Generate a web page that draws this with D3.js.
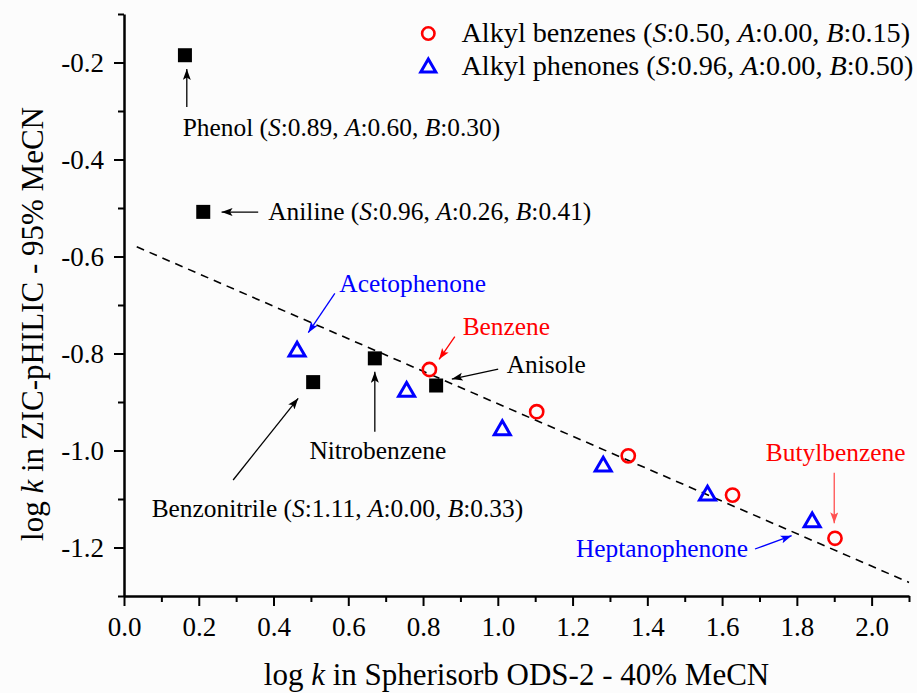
<!DOCTYPE html>
<html>
<head>
<meta charset="utf-8">
<script src="https://cdn.jsdelivr.net/npm/d3@7"></script>
<style>
  html, body { margin: 0; padding: 0; background: #fcfcfc; }
  svg { display: block; font-family: "Liberation Serif", "Times New Roman", serif; }
</style>
</head>
<body>
<svg id="chart" width="917" height="693"></svg>
<script>
// ---- data ----
const benzenesX = [0.817, 1.104, 1.349, 1.628, 1.902];
const benzenesY = [-0.833, -0.920, -1.011, -1.092, -1.181];
const phenonesX = [0.463, 0.756, 1.012, 1.282, 1.561, 1.841];
const phenonesY = [-0.791, -0.874, -0.953, -1.028, -1.088, -1.143];
const othersName = ["Phenol", "Aniline", "Benzonitrile", "Nitrobenzene", "Anisole"];
const othersX = [0.163, 0.212, 0.506, 0.671, 0.835];
const othersY = [-0.185, -0.508, -0.859, -0.810, -0.866];
const fitX = [0.034, 2.10];
const fitY = [-0.580, -1.272];
const xTicks = [0.0, 0.2, 0.4, 0.6, 0.8, 1.0, 1.2, 1.4, 1.6, 1.8, 2.0];
const xMinor = [0.1, 0.3, 0.5, 0.7, 0.9, 1.1, 1.3, 1.5, 1.7, 1.9, 2.1];
const yTicks = [-1.2, -1.0, -0.8, -0.6, -0.4, -0.2];
const yMinor = [-1.3, -1.1, -0.9, -0.7, -0.5, -0.3, -0.1];
const legendLabels = [
  ["Alkyl benzenes (", ["S", ":0.50, "], ["A", ":0.00, "], ["B", ":0.15)"]],
  ["Alkyl phenones (", ["S", ":0.96, "], ["A", ":0.00, "], ["B", ":0.50)"]]
];

// annotations: text anchor and arrow (from -> to) in data units
const annotations = [
  {parts: ["Phenol (", ["S", ":0.89, "], ["A", ":0.60, "], ["B", ":0.30)"]], color: "#000", arrow: "#000",
   tx: 0.157, ty: -0.3516, ax1: 0.168, ay1: -0.2918, ax2: 0.168, ay2: -0.2134},
  {parts: ["Aniline (", ["S", ":0.96, "], ["A", ":0.26, "], ["B", ":0.41)"]], color: "#000", arrow: "#000",
   tx: 0.386, ty: -0.5248, ax1: 0.359, ay1: -0.5083, ax2: 0.261, ay2: -0.5083},
  {parts: ["Acetophenone"], color: "#0000ff", arrow: "#0000ff",
   tx: 0.576, ty: -0.6726, ax1: 0.564, ay1: -0.6759, ax2: 0.493, ay2: -0.7571},
  {parts: ["Benzene"], color: "#ff0000", arrow: "#ff0000",
   tx: 0.906, ty: -0.7619, ax1: 0.885, ay1: -0.7654, ax2: 0.843, ay2: -0.8120},
  {parts: ["Anisole"], color: "#000", arrow: "#000",
   tx: 1.024, ty: -0.8408, ax1: 1.001, ay1: -0.8320, ax2: 0.877, ay2: -0.8526},
  {parts: ["Nitrobenzene"], color: "#000", arrow: "#000",
   tx: 0.496, ty: -1.018, ax1: 0.671, ay1: -0.9613, ax2: 0.671, ay2: -0.8376},
  {parts: ["Benzonitrile (", ["S", ":1.11, "], ["A", ":0.00, "], ["B", ":0.33)"]], color: "#000", arrow: "#000",
   tx: 0.074, ty: -1.1365, ax1: 0.292, ay1: -1.0608, ax2: 0.466, ay2: -0.8924},
  {parts: ["Heptanophenone"], color: "#0000ff", arrow: "#0000ff",
   tx: 1.209, ty: -1.219, ax1: 1.688, ay1: -1.2031, ax2: 1.786, ay2: -1.1757},
  {parts: ["Butylbenzene"], color: "#ff0000", arrow: "#ff5050",
   tx: 1.717, ty: -1.021, ax1: 1.900, ay1: -1.0458, ax2: 1.900, ay2: -1.150}
];

// ---- layout ----
const svg = d3.select("#chart");
const x = d3.scaleLinear().domain([0, 2.1]).range([124, 909]);
const y = d3.scaleLinear().domain([-1.3, -0.1]).range([596, 14]);
const font = "'Liberation Serif', 'Times New Roman', serif";

// arrow markers
const defs = svg.append("defs");
const arrowColors = Array.from(new Set(annotations.map(a => a.arrow)));
arrowColors.forEach((c, i) => {
  defs.append("marker")
    .attr("id", "ah" + i)
    .attr("markerUnits", "userSpaceOnUse")
    .attr("markerWidth", 12).attr("markerHeight", 10)
    .attr("refX", 11).attr("refY", 4)
    .attr("orient", "auto")
    .append("path").attr("d", "M0,0 L11,4 L0,8 L2.5,4 Z").attr("fill", c);
});

// axes
function styleAxis(g) {
  g.selectAll("path.domain").attr("stroke", "#000").attr("stroke-width", 2.5);
  g.selectAll(".tick line").attr("stroke", "#000").attr("stroke-width", 2);
  g.selectAll(".tick text").attr("font-family", font).attr("font-size", 27).attr("fill", "#000");
}
const gx = svg.append("g").attr("transform", `translate(0,${y(-1.3)})`)
  .call(d3.axisBottom(x).tickValues(xTicks).tickFormat(d3.format(".1f")).tickSize(10).tickSizeOuter(0).tickPadding(11));
styleAxis(gx);
gx.selectAll(".tick text").attr("dy", "0.71em");
const gxm = svg.append("g").attr("transform", `translate(0,${y(-1.3)})`)
  .call(d3.axisBottom(x).tickValues(xMinor).tickFormat("").tickSize(6).tickSizeOuter(0));
styleAxis(gxm); gxm.select("path.domain").remove();

const gy = svg.append("g").attr("transform", `translate(${x(0)},0)`)
  .call(d3.axisLeft(y).tickValues(yTicks).tickFormat(d3.format(".1f")).tickSize(10).tickSizeOuter(0).tickPadding(10));
styleAxis(gy);
gy.selectAll(".tick text").text(d => d3.format(".1f")(d).replace("\u2212", "-"));
const gym = svg.append("g").attr("transform", `translate(${x(0)},0)`)
  .call(d3.axisLeft(y).tickValues(yMinor).tickFormat("").tickSize(6).tickSizeOuter(0));
styleAxis(gym); gym.select("path.domain").remove();

// axis titles
const xt = svg.append("text").attr("x", (x(0) + x(2.1)) / 2).attr("y", 685)
  .attr("text-anchor", "middle").attr("font-family", font).attr("font-size", 31).attr("fill", "#000");
xt.append("tspan").text("log ");
xt.append("tspan").attr("font-style", "italic").text("k");
xt.append("tspan").text(" in Spherisorb ODS-2 - 40% MeCN");

const yt = svg.append("text").attr("transform", `translate(43,324) rotate(-90)`)
  .attr("text-anchor", "middle").attr("font-family", font).attr("font-size", 31).attr("fill", "#000");
yt.append("tspan").text("log ");
yt.append("tspan").attr("font-style", "italic").text("k");
yt.append("tspan").text(" in ZIC-pHILIC - 95% MeCN");

// fit line
svg.append("path")
  .attr("d", d3.line().x(d => x(d[0])).y(d => y(d[1]))(d3.zip(fitX, fitY)))
  .attr("stroke", "#000").attr("stroke-width", 1.6).attr("stroke-dasharray", "8,6").attr("fill", "none");

// helper for rich text
function richText(sel, parts) {
  parts.forEach(p => {
    if (typeof p === "string") sel.append("tspan").text(p);
    else {
      sel.append("tspan").attr("font-style", "italic").text(p[0]);
      sel.append("tspan").text(p[1]);
    }
  });
}

// annotations
annotations.forEach(a => {
  const t = svg.append("text").attr("x", x(a.tx)).attr("y", y(a.ty))
    .attr("font-family", font).attr("font-size", 25.4).attr("fill", a.color);
  richText(t, a.parts);
  svg.append("line")
    .attr("x1", x(a.ax1)).attr("y1", y(a.ay1)).attr("x2", x(a.ax2)).attr("y2", y(a.ay2))
    .attr("stroke", a.arrow).attr("stroke-width", 1.3)
    .attr("marker-end", `url(#ah${arrowColors.indexOf(a.arrow)})`);
});

// markers
const triPath = (s) => { const h = s * 0.866; return `M0,${-h/2} L${s/2},${h/2} L${-s/2},${h/2} Z`; };
svg.append("g").selectAll("rect").data(d3.zip(othersX, othersY)).join("rect")
  .attr("x", d => x(d[0]) - 7).attr("y", d => y(d[1]) - 7).attr("width", 14).attr("height", 14).attr("fill", "#000");
svg.append("g").selectAll("circle").data(d3.zip(benzenesX, benzenesY)).join("circle")
  .attr("cx", d => x(d[0])).attr("cy", d => y(d[1])).attr("r", 6.6)
  .attr("fill", "none").attr("stroke", "#ff0000").attr("stroke-width", 2.6);
svg.append("g").selectAll("path").data(d3.zip(phenonesX, phenonesY)).join("path")
  .attr("transform", d => `translate(${x(d[0])},${y(d[1])})`).attr("d", triPath(16))
  .attr("fill", "none").attr("stroke", "#0000ff").attr("stroke-width", 3).attr("stroke-linejoin", "miter");

// legend
const lg = svg.append("g");
lg.append("circle").attr("cx", 428.3).attr("cy", 33.5).attr("r", 6.2)
  .attr("fill", "none").attr("stroke", "#ff0000").attr("stroke-width", 2.6);
lg.append("path").attr("transform", "translate(428.3,65.5)").attr("d", triPath(15))
  .attr("fill", "none").attr("stroke", "#0000ff").attr("stroke-width", 3);
legendLabels.forEach((parts, i) => {
  const t = lg.append("text").attr("x", 461.5).attr("y", 42.3 + i * 33)
    .attr("font-family", font).attr("font-size", 28.2).attr("fill", "#000");
  richText(t, parts);
});
</script>
</body>
</html>
